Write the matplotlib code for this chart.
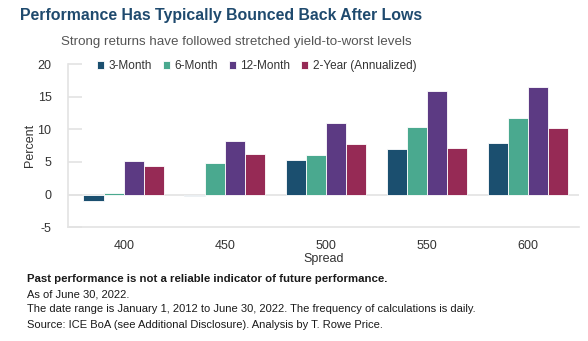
import numpy as np
import matplotlib.pyplot as plt

plt.rcParams['font.family'] = ['Liberation Sans', 'DejaVu Sans']
plt.rcParams['axes.unicode_minus'] = False

# Average forward returns (%) by starting spread level
spreads = ['400', '450', '500', '550', '600']
series = ['3-Month', '6-Month', '12-Month', '2-Year (Annualized)']
ret_3m = [-1.0, -0.3, 5.3, 7.0, 7.9]
ret_6m = [0.2, 4.8, 6.0, 10.3, 11.7]
ret_12m = [5.2, 8.2, 11.0, 15.8, 16.5]
ret_2y = [4.3, 6.2, 7.8, 7.2, 10.2]
colors = ['#1b4f6f', '#4aa98f', '#5c3a83', '#962a55']

fig = plt.figure(figsize=(5.88, 3.41), dpi=100)
ax = fig.add_axes([0.116, 0.334, 0.868, 0.478])

x = np.arange(len(spreads))
w = 0.2
for i, (vals, lab, c) in enumerate(zip([ret_3m, ret_6m, ret_12m, ret_2y], series, colors)):
    ax.bar(x + (i - 1.5) * w, vals, width=w, color=c, edgecolor='white',
           linewidth=0.6, label=lab, zorder=3)

ax.set_xlim(-0.55, 4.5)
ax.set_ylim(-5, 20)
ax.set_yticks([-5, 0, 5, 10, 15, 20])
ax.set_xticks(x)
ax.set_xticklabels(spreads)
ax.axhline(0, color='#e3e3e3', lw=1.2, zorder=1)

for s in ['top', 'right']:
    ax.spines[s].set_visible(False)
for s in ['left', 'bottom']:
    ax.spines[s].set_color('#e3e3e3')
    ax.spines[s].set_linewidth(1.2)
ax.tick_params(axis='y', direction='in', length=10, color='#e3e3e3', width=1.2,
               labelsize=9, labelcolor='#333333', pad=12)
ax.tick_params(axis='x', length=0, labelsize=9, labelcolor='#333333', pad=9)

ax.set_ylabel('Percent', fontsize=9, color='#333333', labelpad=1)
ax.set_xlabel('Spread', fontsize=9, color='#333333', labelpad=1)

leg = ax.legend(loc='upper left', bbox_to_anchor=(0.04, 1.075), ncol=4, frameon=True,
                fontsize=8.5, handlelength=0.6, handleheight=0.6, handletextpad=0.4,
                columnspacing=0.9, borderpad=0.2, labelcolor='#333333')
leg.get_frame().set_facecolor('white')
leg.get_frame().set_edgecolor('none')

fig.text(0.034, 0.955, 'Performance Has Typically Bounced Back After Lows',
         fontsize=11.4, fontweight='bold', color='#1f4a6e', va='center')
fig.text(0.104, 0.877, 'Strong returns have followed stretched yield-to-worst levels',
         fontsize=9.6, color='#555555', va='center')

notes = [
    ('Past performance is not a reliable indicator of future performance.', 'bold'),
    ('As of June 30, 2022.', 'normal'),
    ('The date range is January 1, 2012 to June 30, 2022. The frequency of calculations is daily.', 'normal'),
    ('Source: ICE BoA (see Additional Disclosure). Analysis by T. Rowe Price.', 'normal'),
]
for k, (t, fw) in enumerate(notes):
    fig.text(0.046, (341 - 279 - 15.2 * k) / 341, t, fontsize=8.2 if fw == 'bold' else 8,
             fontweight=fw, color='#1a1a1a', va='center')

fig.savefig('out.png', dpi=100, facecolor='white')
